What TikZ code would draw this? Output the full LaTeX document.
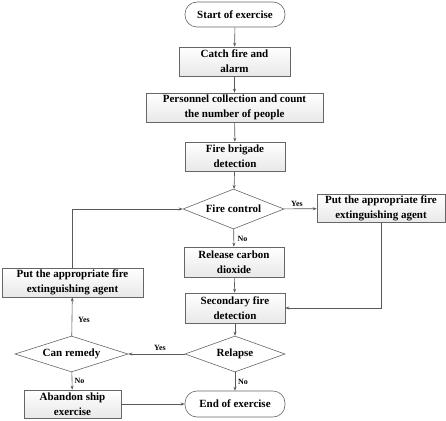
\documentclass[tikz,border=0pt]{standalone}
\usepackage{fontspec}
\setmainfont{Liberation Serif}
\usetikzlibrary{shapes.geometric,arrows.meta}
\begin{document}
\begin{tikzpicture}[x=1pt,y=-1pt,
  every node/.style={font=\fontsize{11}{15}\selectfont\bfseries, align=center},
  base/.style={draw=gray!80!black, line width=0.6pt, top color=white, bottom color=gray!18, inner sep=1pt},
  boxnode/.style={base, rectangle, minimum height=29pt},
  pill/.style={base, rounded corners=12pt, minimum width=100pt, minimum height=25pt, top color=white, bottom color=white},
  dia/.style={base, diamond, inner sep=0pt, top color=white, bottom color=white},
  conn/.style={draw=gray!70!black, line width=0.6pt, -{Stealth[length=4pt,width=3pt]}},
  lab/.style={font=\fontsize{8}{9}\selectfont\bfseries, inner sep=1pt}]
\useasboundingbox (0,0) rectangle (446,420);
\node[pill] (start) at (235,14.5) {Start of exercise};
\node[boxnode, minimum width=111pt] (catch) at (234.5,61.5) {Catch fire and\\alarm};
\node[boxnode, minimum width=177pt] (pers) at (234.5,107.5) {Personnel collection and count\\the number of people};
\node[boxnode, minimum width=100pt] (brig) at (235,156.5) {Fire brigade\\detection};
\node[dia, aspect=2.46, minimum width=101pt, minimum height=40pt] (fc) at (233.5,209) {Fire control};
\node[boxnode, minimum width=128pt, minimum height=28pt] (rbox) at (381,208.5) {Put the appropriate fire\\extinguishing agent};
\node[boxnode, minimum width=100pt, minimum height=30pt] (rel) at (234,262) {Release carbon\\dioxide};
\node[boxnode, minimum width=100pt, minimum height=30pt] (sec) at (235,308) {Secondary fire\\detection};
\node[dia, aspect=2.78, minimum width=100pt, minimum height=36pt] (relapse) at (235,354) {Relapse};
\node[dia, aspect=3.14, minimum width=113pt, minimum height=36pt] (canr) at (71.5,354) {Can remedy};
\node[boxnode, minimum width=141pt] (lbox) at (72.5,282.5) {Put the appropriate fire\\extinguishing agent};
\node[boxnode, minimum width=97pt, minimum height=28pt] (aband) at (72.5,404) {Abandon ship\\exercise};
\node[pill, minimum height=26pt] (end) at (235,404) {End of exercise};

\draw[conn] (start) -- (catch);
\draw[conn] (catch) -- (pers);
\draw[conn] (pers) -- (brig);
\draw[conn] (brig) -- (fc);
\draw[conn] (fc) -- (rbox);
\draw[conn] (fc) -- (rel);
\draw[conn] (rbox.south) |- (sec.east);
\draw[conn] (rel) -- (sec);
\draw[conn] (sec) -- (relapse);
\draw[conn] (relapse) -- (canr);
\draw[conn] (relapse) -- (end);
\draw[conn] (canr) -- (lbox);
\draw[conn] (canr) -- (aband);
\draw[conn] (aband) -- (end);
\draw[conn] (lbox.north) |- (fc.west);

\node[lab] (l1) at (297,203.5) {Yes};
\node[lab] (l2) at (242.5,238.5) {No};
\node[lab] (l3) at (160,348) {Yes};
\node[lab] (l4) at (243,382) {No};
\node[lab] (l5) at (84,320) {Yes};
\node[lab] (l6) at (79.5,380.5) {No};
\end{tikzpicture}
\end{document}
